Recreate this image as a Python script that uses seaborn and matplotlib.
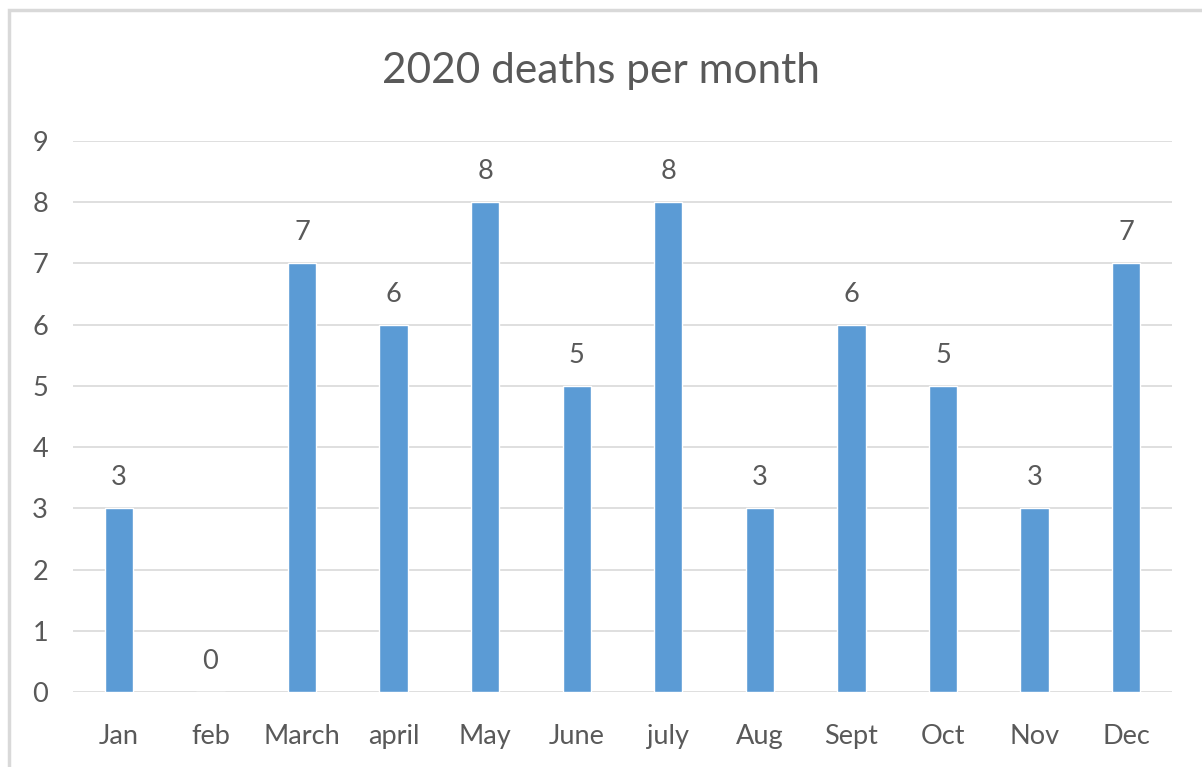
import pandas as pd
import seaborn as sns
import matplotlib.pyplot as plt
from matplotlib.patches import Rectangle

months = ["Jan", "feb", "March", "april", "May", "June", "july", "Aug", "Sept", "Oct", "Nov", "Dec"]
deaths = [3, 0, 7, 6, 8, 5, 8, 3, 6, 5, 3, 7]
y_ticks = list(range(0, 10))

df = pd.DataFrame({"month": months, "deaths": deaths})

sns.set_theme(style="white")
plt.rcParams["font.family"] = ["Lato", "DejaVu Sans"]

text_col = "#595959"
grid_col = "#d9d9d9"

fig = plt.figure(figsize=(12.02, 7.67), dpi=100)
ax = fig.add_axes([73 / 1202, 1 - 692 / 767, 1099 / 1202, 551 / 767])

sns.barplot(data=df, x="month", y="deaths", color="#5B9BD5", width=0.31,
            saturation=1, ax=ax, zorder=3)

ax.set_ylim(0, 9)
ax.set_xlim(-0.5, len(months) - 0.5)
ax.set_yticks(y_ticks)
ax.yaxis.grid(True, color=grid_col, linewidth=1.2, zorder=0)
ax.set_axisbelow(True)
for s in ax.spines.values():
    s.set_visible(False)
ax.tick_params(axis="both", length=0, labelsize=19.5, labelcolor=text_col)
ax.tick_params(axis="y", pad=18)
ax.tick_params(axis="x", pad=23)
ax.set_xlabel("")
ax.set_ylabel("")

for c in ax.containers:
    ax.bar_label(c, fmt="%d", padding=13, fontsize=19.5, color=text_col)

fig.text(0.5, 1 - 71 / 767, "2020 deaths per month", ha="center", va="center",
         fontsize=30.5, color=text_col)

# chart frame (cut off at right and bottom)
fig.patches.append(Rectangle((9 / 1202, -0.1), 1.2, 1 - 10 / 767 + 0.1,
                             transform=fig.transFigure, fill=False,
                             edgecolor=grid_col, linewidth=2.5))
fig.text(8 / 1202, 1 + 12 / 767, "Fig 3", ha="left", va="center",
         fontsize=16, fontweight="bold", color="black")

fig.savefig("out.png", dpi=100)
